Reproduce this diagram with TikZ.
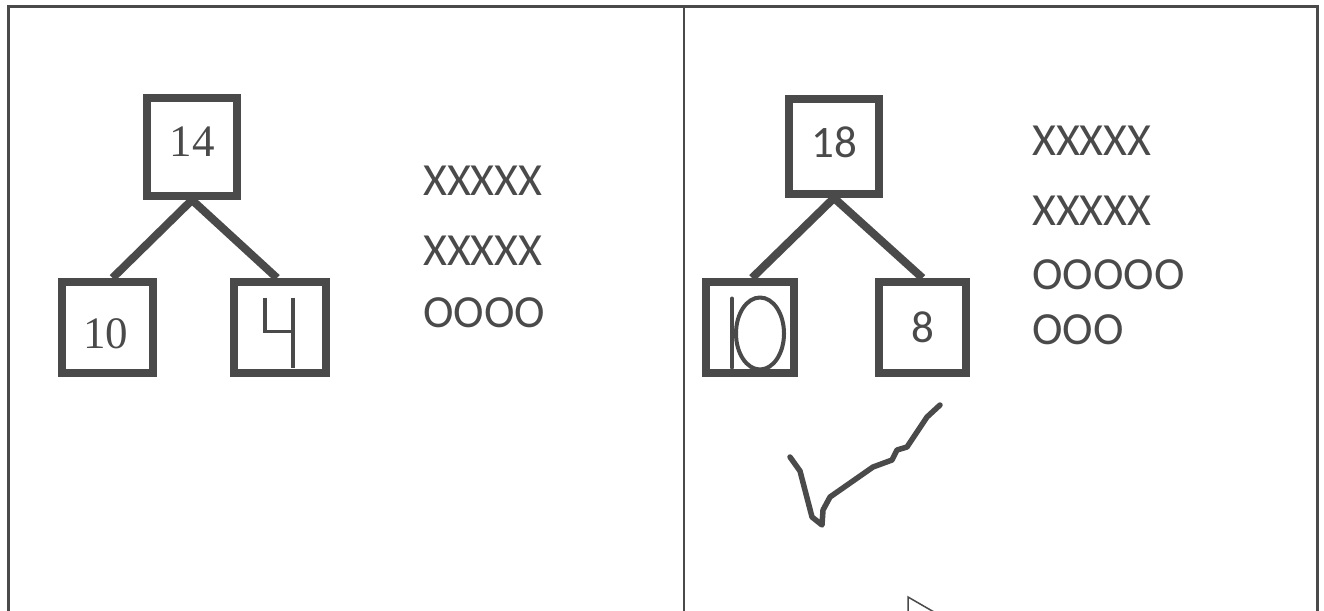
\documentclass[tikz,border=0pt]{standalone}
\usepackage{fontspec}
\setmainfont{Liberation Serif}
\newfontfamily\handfont{Carlito}
\definecolor{ink}{RGB}{74,74,74}
\begin{document}
\begin{tikzpicture}[x=1pt,y=-1pt,
  tbox/.style={draw=ink,line width=8pt,inner sep=0pt},
  edge/.style={draw=ink,line width=8pt},
  frame/.style={draw=ink,line width=3pt},
  marks/.style={text=ink,anchor=base west,inner sep=0pt,font=\handfont\fontsize{46}{50}\selectfont},
  sernum/.style={text=ink,inner sep=0pt,font=\fontsize{45}{48}\selectfont},
  sansnum/.style={text=ink,inner sep=0pt,font=\handfont\fontsize{45}{48}\selectfont},
  hand/.style={draw=ink,line width=4pt,line cap=round,line join=round}]
\useasboundingbox (0,0) rectangle (1324,610);
\fill[white] (0,0) rectangle (1324,610);
% frame
\coordinate (tl) at (8,7);
\coordinate (tm) at (684,7);
\coordinate (tr) at (1317,7);
\coordinate (bl) at (8,612);
\coordinate (bm) at (684,612);
\coordinate (br) at (1317,612);
\draw[frame] (bl) -- (tl) -- (tr) -- (br);
\draw[frame,line width=2.5pt] (tm) -- (bm);
% left tree
\node[tbox,minimum width=90pt,minimum height=98pt] (n14) at (192,147) {};
\node[tbox,minimum width=91pt,minimum height=91pt] (n10L) at (107.5,327.5) {};
\node[tbox,minimum width=92pt,minimum height=91pt] (n4) at (280,327.5) {};
\node[sernum] (t14) at ([yshift=5pt]n14.center) {14};
\node[sernum] (t10L) at ([shift={(-2pt,-6pt)}]n10L.center) {10};
\draw[edge] (n14.south) -- ([xshift=5pt]n10L.north);
\draw[edge] (n14.south) -- ([xshift=-3pt]n4.north);
\draw[hand,line width=3.5pt,line cap=butt,line join=miter] ([shift={(-15,-30)}]n4.center) -- ([shift={(-15,4)}]n4.center) -- ([shift={(14,4)}]n4.center);
\draw[hand,line width=3.5pt,line cap=butt] ([shift={(13,-30)}]n4.center) -- ([shift={(13,40)}]n4.center);
% left marks
\node[marks] (l1) at (423,195) {XXXXX};
\node[marks] (l2) at (423,265) {XXXXX};
\node[marks] (l3) at (423,327) {OOOO};
% right tree
\node[tbox,minimum width=90pt,minimum height=95pt] (n18) at (834,146.5) {};
\node[tbox,minimum width=88pt,minimum height=91pt] (n10R) at (750,327.5) {};
\node[tbox,minimum width=87pt,minimum height=91pt] (n8) at (922.5,327.5) {};
\node[sansnum] (t18) at ([yshift=4pt]n18.center) {18};
\node[sansnum] (t8) at ([yshift=0pt]n8.center) {8};
\draw[edge] (n18.south) -- ([xshift=2pt]n10R.north);
\draw[edge] (n18.south) -- ([xshift=0pt]n8.north);
\draw[hand] ([shift={(-18,-29)}]n10R.center) -- ([shift={(-18,40)}]n10R.center);
\draw[hand] ([shift={(10,6)}]n10R.center) ellipse [x radius=24, y radius=36];
% right marks
\node[marks] (r1) at (1032,155) {XXXXX};
\node[marks] (r2) at (1032,225) {XXXXX};
\node[marks] (r3) at (1032,289) {OOOOO};
\node[marks] (r4) at (1032,344) {OOO};
% check mark
\draw[hand,line width=5.5pt] (790,457) -- (800,471) -- (812,517) -- (822,525) -- (823,510) -- (830,497) -- (873,467) -- (892,460) -- (897,450) -- (907,447) -- (927,417) -- (940,405);
% cursor tip
\coordinate (c0) at (908,597);
\coordinate (c1) at (908,612);
\coordinate (c2) at (934,612);
\draw[draw=ink,line width=1.5pt] (c1) -- (c0) -- (c2);
\end{tikzpicture}
\end{document}
